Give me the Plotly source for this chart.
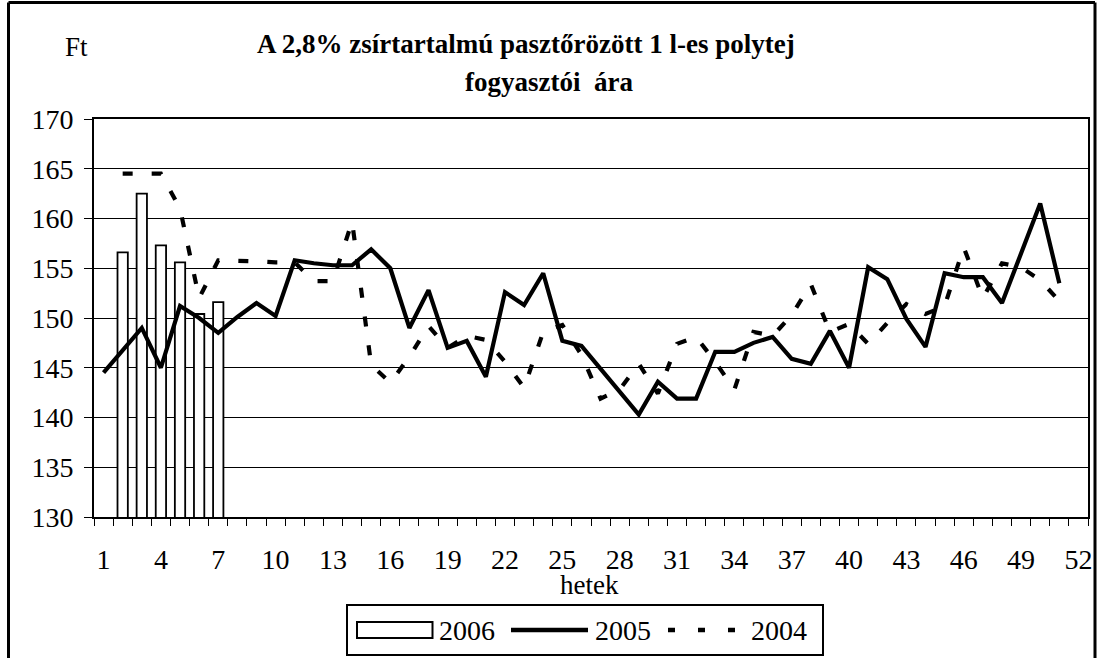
import plotly.graph_objects as go

# ---------------- data ----------------
weeks = list(range(1, 53))
tick_weeks = list(range(1, 53, 3))
tick_labels = [str(w) for w in tick_weeks]

price_2006 = [None, 156.6, 162.5, 157.3, 155.6, 150.4, 151.6] + [None] * 45

price_2005 = [
    144.5, 146.8, 149.0, 145.0, 151.2, 150.0, 148.5, 150.1, 151.5, 150.2,
    155.8, 155.5, 155.3, 155.3, 156.9, 155.0, 149.0, 152.8, 147.0, 147.7,
    144.1, 152.6, 151.3, 154.5, 147.7, 147.2, 144.9, 142.6, 140.3, 143.6,
    141.9, 141.9, 146.6, 146.6, 147.5, 148.1, 145.9, 145.4, 148.7, 145.0,
    155.1, 153.9, 149.9, 147.1, 154.5, 154.1, 154.1, 151.5, 156.4, 161.5,
    153.5, None,
]

price_2004 = [
    None, 164.5, 164.5, 164.5, 161.0, 152.0, 155.8, 155.8, 155.7, 155.6,
    155.6, 153.7, 153.7, 159.7, 145.3, 143.5, 146.1, 149.2, 147.0, 148.2,
    147.8, 145.6, 143.0, 148.6, 149.3, 146.3, 141.9, 142.8, 145.4, 142.4,
    147.4, 148.1, 145.6, 142.8, 148.6, 148.2, 150.3, 153.4, 148.6, 149.4,
    147.4, 149.5, 151.4, 150.4, 151.2, 157.1, 152.0, 155.5, 155.1, 153.8,
    151.7, None,
]

series_names = ["2006", "2005", "2004"]
title_line1 = "A 2,8% zsírtartalmú pasztőrözött 1 l-es polytej"
title_line2 = "fogyasztói\u00a0\u00a0ára"
y_unit = "Ft"
x_title = "hetek"

FONT = "Liberation Serif"
FS = 27      # title / axis-title size
FT = 28      # tick label / legend size

# plot-area pixel geometry (for paper-coordinate decorations)
W, H = 1105, 658
L, R, T, B = 94, 17, 119, 141
PW = W - L - R
PH = H - T - B


def px(xp):
    return (xp - L) / PW


def py(yp):
    return (H - B - yp) / PH


fig = go.Figure()

fig.add_trace(go.Bar(
    x=weeks, y=price_2006, name=series_names[0], width=0.54,
    marker=dict(color="white", line=dict(color="black", width=1.8)),
))
fig.add_trace(go.Scatter(
    x=weeks, y=price_2004, name=series_names[2], mode="lines",
    line=dict(color="black", width=4.2, dash="10px,19px"),
    connectgaps=False,
))
fig.add_trace(go.Scatter(
    x=weeks, y=price_2005, name=series_names[1], mode="lines",
    line=dict(color="black", width=4.2),
    connectgaps=False,
))

shapes = []
# outer frame (three visible sides)
frame_line = dict(color="black", width=3)
shapes.append(dict(type="line", xref="paper", yref="paper",
                   x0=px(8.5), x1=px(8.5), y0=py(700), y1=py(2.5), line=frame_line))
shapes.append(dict(type="line", xref="paper", yref="paper",
                   x0=px(8.5), x1=px(1095), y0=py(2.5), y1=py(2.5), line=frame_line))
shapes.append(dict(type="line", xref="paper", yref="paper",
                   x0=px(1095), x1=px(1095), y0=py(700), y1=py(2.5), line=frame_line))
# legend box
shapes.append(dict(type="rect", xref="paper", yref="paper",
                   x0=px(347), x1=px(823), y0=py(655), y1=py(605),
                   line=dict(color="black", width=2), fillcolor="white"))
# legend: bar symbol
shapes.append(dict(type="rect", xref="paper", yref="paper",
                   x0=px(357), x1=px(432.5), y0=py(638), y1=py(622),
                   line=dict(color="black", width=2), fillcolor="white"))
# legend: solid line
shapes.append(dict(type="line", xref="paper", yref="paper",
                   x0=px(511), x1=px(588), y0=py(630), y1=py(630),
                   line=dict(color="black", width=4.5)))
# legend: dashed line
shapes.append(dict(type="line", xref="paper", yref="paper",
                   x0=px(668), x1=px(736), y0=py(630), y1=py(630),
                   line=dict(color="black", width=4.5, dash="7px,23px")))


def ann(text, x, y, size, xanchor="center"):
    return dict(text=text, x=px(x), y=py(y), xref="paper", yref="paper",
                xanchor=xanchor, yanchor="middle", showarrow=False,
                font=dict(family=FONT, size=size, color="black"))


annotations = [
    ann("<b>" + title_line1 + "</b>", 526, 44, FS),
    ann("<b>" + title_line2 + "</b>", 549, 82, FS),
    ann(y_unit, 76, 47, FS),
    ann(x_title, 589, 585, FS),
    ann(series_names[0], 437, 630, FT, "left"),
    ann(series_names[1], 593, 630, FT, "left"),
    ann(series_names[2], 749, 630, FT, "left"),
]

fig.update_layout(
    width=W, height=H, autosize=False,
    margin=dict(l=L, r=R, t=T, b=B, pad=0),
    paper_bgcolor="white", plot_bgcolor="white",
    showlegend=False,
    font=dict(family=FONT, size=FS, color="black"),
    shapes=shapes, annotations=annotations,
    bargap=0.46,
)

fig.update_xaxes(
    range=[0.5, 52.5], tickmode="array", tickvals=tick_weeks, ticktext=tick_labels,
    ticks="", showline=True, linecolor="black", linewidth=2, mirror=True,
    showgrid=False, zeroline=False, tickfont=dict(family=FONT, size=FT, color="black"),
    ticklabelstandoff=16,
    minor=dict(tick0=0.5, dtick=1, ticks="outside", ticklen=7, tickwidth=1,
               tickcolor="black", showgrid=False),
)
fig.update_yaxes(
    range=[130, 170], tick0=130, dtick=5, ticks="outside", ticklen=8, tickwidth=1,
    tickcolor="black", showline=True, linecolor="black", linewidth=2, mirror=True,
    showgrid=True, gridcolor="black", gridwidth=1, zeroline=False,
    tickfont=dict(family=FONT, size=FT, color="black"),
    ticklabelstandoff=5,
)

fig.write_html(
    "out.html",
    config={"displayModeBar": False},
    post_script="document.body.style.margin='0px';document.body.style.overflow='hidden';",
)
